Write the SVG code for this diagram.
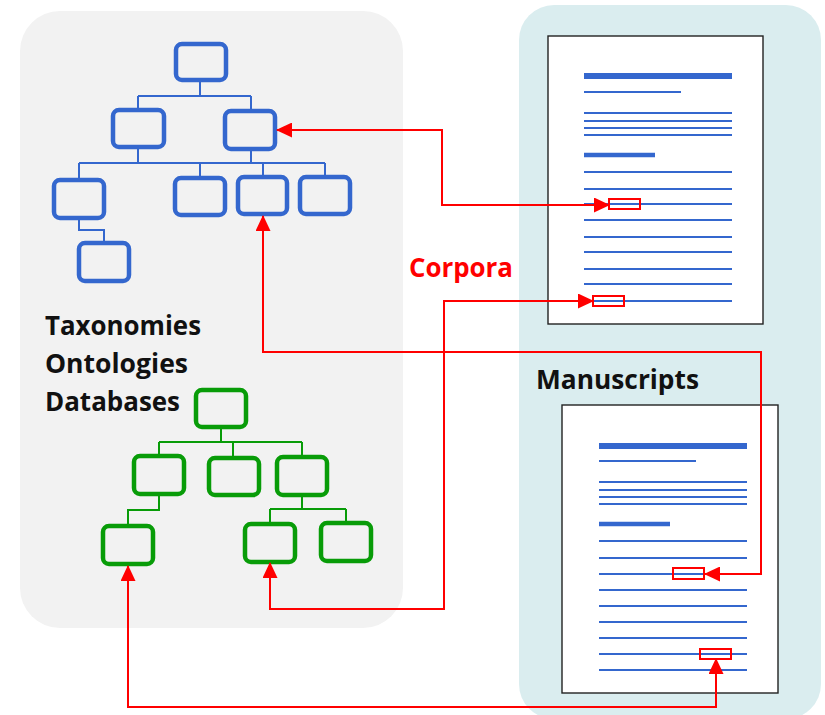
<svg xmlns="http://www.w3.org/2000/svg" width="825" height="715" viewBox="0 0 825 715">
<defs>
<style>
.panel-gray{fill:#F2F2F2}
.panel-teal{fill:#DAEDEF}
.bnode{fill:none;stroke:#3467CE;stroke-width:4.5}
.gnode{fill:none;stroke:#089C08;stroke-width:4.5}
.bline{fill:none;stroke:#3467CE;stroke-width:2}
.gline{fill:none;stroke:#089C08;stroke-width:2}
.doc{fill:#FFFFFF;stroke:#222;stroke-width:1.4}
.dl{stroke:#3467CE;stroke-width:2.2}
.dt{stroke:#3467CE;stroke-width:6}
.dh{stroke:#3467CE;stroke-width:4.5}
.hl{fill:none;stroke:#FF0000;stroke-width:2}
.conn{fill:none;stroke:#FF0000;stroke-width:2}
.lbl{font-family:"Open Sans","Liberation Sans",sans-serif;font-weight:700;font-size:26px;fill:#111}
.red{fill:#FF0000}
</style>
<marker id="ah" markerUnits="userSpaceOnUse" markerWidth="16" markerHeight="15" viewBox="0 0 16 15" refX="15" refY="7.5" orient="auto-start-reverse">
<path d="M0,0 L16,7.5 L0,15 z" fill="#FF0000"/>
</marker>
</defs>

<rect class="panel-gray" x="20" y="11" width="383" height="617" rx="40"/>
<rect class="panel-teal" x="519" y="5" width="302" height="714" rx="35"/>

<g id="blue-tree-lines">
<path class="bline" d="M200 80 V96 M138 96 H251 M138 96 V110 M251 96 V111 M138 147 V163 M251 149 V163 M79 163 H325 M79 163 V180 M200 163 V178 M263 163 V177 M325 163 V177 M79 218 V230 H104 V243"/>
</g>
<g id="b-root"><rect class="bnode" x="176" y="44" width="50" height="36" rx="6"/></g>
<g id="b-l2a"><rect class="bnode" x="113" y="110" width="51" height="37" rx="6"/></g>
<g id="b-l2b"><rect class="bnode" x="225" y="111" width="50" height="38" rx="6"/></g>
<g id="b-l3a"><rect class="bnode" x="54" y="180" width="50" height="38" rx="6"/></g>
<g id="b-l3b"><rect class="bnode" x="175" y="178" width="50" height="37" rx="6"/></g>
<g id="b-l3c"><rect class="bnode" x="238" y="177" width="49" height="37" rx="6"/></g>
<g id="b-l3d"><rect class="bnode" x="300" y="177" width="50" height="37" rx="6"/></g>
<g id="b-l4"><rect class="bnode" x="79" y="243" width="50" height="38" rx="6"/></g>

<g id="green-tree-lines">
<path class="gline" d="M221 427 V442 M159 442 H302 M159 442 V456 M233 442 V458 M302 442 V457 M159 494 V510 H128 V526 M302 495 V509 M270 509 H346 M270 509 V524 M346 509 V523"/>
</g>
<g id="g-root"><rect class="gnode" x="196" y="390" width="50" height="37" rx="6"/></g>
<g id="g-l2a"><rect class="gnode" x="134" y="456" width="50" height="38" rx="6"/></g>
<g id="g-l2b"><rect class="gnode" x="209" y="458" width="50" height="37" rx="6"/></g>
<g id="g-l2c"><rect class="gnode" x="277" y="457" width="50" height="38" rx="6"/></g>
<g id="g-l3a"><rect class="gnode" x="103" y="526" width="50" height="38" rx="6"/></g>
<g id="g-l3b"><rect class="gnode" x="245" y="524" width="50" height="38" rx="6"/></g>
<g id="g-l3c"><rect class="gnode" x="321" y="523" width="50" height="38" rx="6"/></g>

<g id="labels">
<text class="lbl" x="45" y="335" textLength="156" lengthAdjust="spacingAndGlyphs">Taxonomies</text>
<text class="lbl" x="45" y="373" textLength="143" lengthAdjust="spacingAndGlyphs">Ontologies</text>
<text class="lbl" x="45" y="411" textLength="135" lengthAdjust="spacingAndGlyphs">Databases</text>
<text class="lbl" x="536" y="389" textLength="163" lengthAdjust="spacingAndGlyphs">Manuscripts</text>
<text class="lbl red" x="409" y="277" textLength="104" lengthAdjust="spacingAndGlyphs">Corpora</text>
</g>

<g id="doc1">
<rect class="doc" x="548" y="36" width="215" height="288"/>
<line class="dt" x1="584" y1="76" x2="732" y2="76"/>
<line class="dl" x1="584" y1="92" x2="681" y2="92"/>
<line class="dl" x1="584" y1="113" x2="732" y2="113"/>
<line class="dl" x1="584" y1="121" x2="732" y2="121"/>
<line class="dl" x1="584" y1="128" x2="732" y2="128"/>
<line class="dl" x1="584" y1="135" x2="732" y2="135"/>
<line class="dh" x1="584" y1="155" x2="655" y2="155"/>
<line class="dl" x1="584" y1="172" x2="732" y2="172"/>
<line class="dl" x1="584" y1="189" x2="732" y2="189"/>
<line class="dl" x1="584" y1="204" x2="732" y2="204"/>
<line class="dl" x1="584" y1="220" x2="732" y2="220"/>
<line class="dl" x1="584" y1="237" x2="732" y2="237"/>
<line class="dl" x1="584" y1="252" x2="732" y2="252"/>
<line class="dl" x1="584" y1="269" x2="732" y2="269"/>
<line class="dl" x1="584" y1="284" x2="732" y2="284"/>
<line class="dl" x1="584" y1="301" x2="732" y2="301"/>
<rect class="hl" x="609" y="199" width="31" height="10"/>
<rect class="hl" x="593" y="296" width="31" height="10"/>
</g>

<g id="doc2">
<rect class="doc" x="562" y="405" width="216" height="288"/>
<line class="dt" x1="599" y1="446" x2="747" y2="446"/>
<line class="dl" x1="599" y1="461" x2="696" y2="461"/>
<line class="dl" x1="599" y1="482" x2="747" y2="482"/>
<line class="dl" x1="599" y1="490" x2="747" y2="490"/>
<line class="dl" x1="599" y1="497" x2="747" y2="497"/>
<line class="dl" x1="599" y1="504" x2="747" y2="504"/>
<line class="dh" x1="599" y1="524" x2="670" y2="524"/>
<line class="dl" x1="599" y1="541" x2="747" y2="541"/>
<line class="dl" x1="599" y1="558" x2="747" y2="558"/>
<line class="dl" x1="599" y1="574" x2="747" y2="574"/>
<line class="dl" x1="599" y1="590" x2="747" y2="590"/>
<line class="dl" x1="599" y1="606" x2="747" y2="606"/>
<line class="dl" x1="599" y1="622" x2="747" y2="622"/>
<line class="dl" x1="599" y1="638" x2="747" y2="638"/>
<line class="dl" x1="599" y1="654" x2="747" y2="654"/>
<line class="dl" x1="599" y1="670" x2="747" y2="670"/>
<rect class="hl" x="673" y="568" width="31" height="11"/>
<rect class="hl" x="700" y="649" width="31" height="10"/>
</g>

<g id="connectors">
<path class="conn" d="M277 130 H442 V205 H609" marker-start="url(#ah)" marker-end="url(#ah)"/>
<path class="conn" d="M270 563 V609 H444 V301 H593" marker-start="url(#ah)" marker-end="url(#ah)"/>
<path class="conn" d="M263 216 V352 H761 V574 H705" marker-start="url(#ah)" marker-end="url(#ah)"/>
<path class="conn" d="M128 566 V707 H716 V659" marker-start="url(#ah)" marker-end="url(#ah)"/>
</g>
</svg>
